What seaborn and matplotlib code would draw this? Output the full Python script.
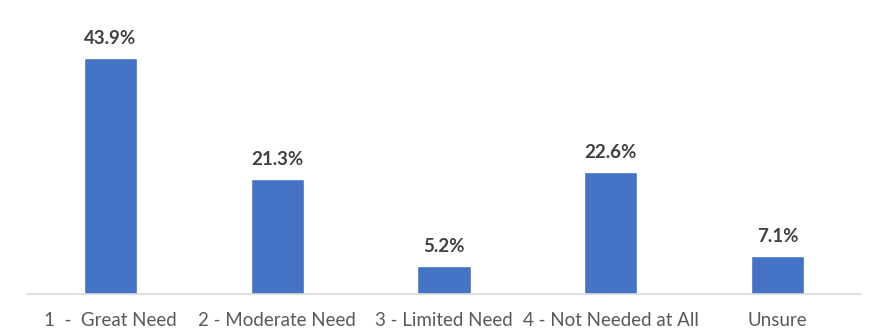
import matplotlib
matplotlib.use("Agg")
import matplotlib.pyplot as plt
import seaborn as sns
import pandas as pd

categories = ["1  -  Great Need", "2 - Moderate Need", "3 - Limited Need", "4 - Not Needed at All", "Unsure"]
values = [43.9, 21.3, 5.2, 22.6, 7.1]

df = pd.DataFrame({"category": categories, "value": values})

sns.set_theme(style="white")
plt.rcParams["font.family"] = ["Lato", "DejaVu Sans"]

fig = plt.figure(figsize=(8.74, 3.31), dpi=100)
ax = fig.add_axes([27 / 874, 1 - 294 / 331, 834 / 874, 269 / 331])

sns.barplot(data=df, x="category", y="value", color="#4472C4", width=0.32,
            saturation=1, ax=ax)

ax.set_ylim(0, 50)
ax.set_xlim(-0.5, len(categories) - 0.5)
for p, v in zip(ax.patches, values):
    ax.annotate(f"{v:.1f}%", (p.get_x() + p.get_width() / 2, p.get_height()),
                xytext=(0, 8), textcoords="offset points", ha="center", va="bottom",
                fontsize=13.5, fontweight="bold", color="#404040")

ax.set_xlabel("")
ax.set_ylabel("")
ax.set_yticks([])
ax.tick_params(axis="x", length=0, pad=13, labelsize=13.5, labelcolor="#595959")
for side in ["top", "left", "right"]:
    ax.spines[side].set_visible(False)
ax.spines["bottom"].set_color("#D9D9D9")
ax.spines["bottom"].set_linewidth(1.2)

fig.savefig("out.png", dpi=100)
